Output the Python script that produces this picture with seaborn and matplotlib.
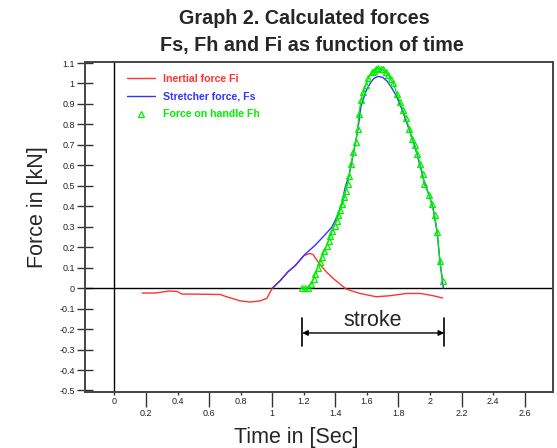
import numpy as np
import pandas as pd
import matplotlib
matplotlib.use("Agg")
import matplotlib.pyplot as plt
from matplotlib.ticker import FixedLocator, FixedFormatter
from matplotlib.lines import Line2D
import seaborn as sns

# ---- data ----
fi_time = [0.175, 0.26, 0.344, 0.397, 0.428, 0.502, 0.67, 0.71, 0.797, 0.86, 0.924, 0.966,
           0.998, 1.05, 1.10, 1.146, 1.2, 1.24, 1.26, 1.30, 1.346, 1.39, 1.47, 1.557, 1.66,
           1.747, 1.85, 1.94, 2.02, 2.08]
fi_force = [-0.024, -0.024, -0.014, -0.016, -0.029, -0.029, -0.031, -0.042, -0.062, -0.068,
            -0.062, -0.05, -0.004, 0.036, 0.08, 0.11, 0.159, 0.17, 0.163, 0.118, 0.077, 0.045,
            -0.005, -0.026, -0.042, -0.037, -0.026, -0.026, -0.037, -0.048]

fs_time = [1.0, 1.05, 1.10, 1.146, 1.21, 1.27, 1.33, 1.378, 1.41, 1.44, 1.463, 1.487, 1.515,
           1.542, 1.563, 1.593, 1.62, 1.645, 1.67, 1.70, 1.73, 1.76, 1.79, 1.83, 1.87, 1.905,
           1.937, 1.96, 1.996, 2.02, 2.046, 2.063, 2.075, 2.085]
fs_force = [0.0, 0.036, 0.08, 0.11, 0.167, 0.208, 0.257, 0.298, 0.347, 0.41, 0.494, 0.55,
            0.66, 0.77, 0.89, 0.96, 1.0, 1.025, 1.035, 1.03, 1.01, 0.975, 0.935, 0.86, 0.77,
            0.69, 0.60, 0.53, 0.45, 0.39, 0.27, 0.13, 0.06, 0.0]

fh_time = [1.188, 1.209, 1.23, 1.247, 1.262, 1.272, 1.289, 1.304, 1.314, 1.331, 1.346, 1.357,
           1.367, 1.382, 1.395, 1.41, 1.42, 1.43, 1.445, 1.458, 1.466, 1.479, 1.487, 1.5,
           1.515, 1.53, 1.542, 1.55, 1.563, 1.578, 1.593, 1.61, 1.631, 1.645, 1.66, 1.673,
           1.688, 1.70, 1.72, 1.736, 1.752, 1.768, 1.79, 1.81, 1.83, 1.848, 1.87, 1.884,
           1.905, 1.92, 1.937, 1.954, 1.962, 1.996, 2.01, 2.03, 2.046, 2.063, 2.08]
fh_force = [0.0, 0.0, 0.0, 0.02, 0.045, 0.069, 0.10, 0.126, 0.154, 0.183, 0.208, 0.232,
            0.257, 0.281, 0.306, 0.33, 0.355, 0.38, 0.41, 0.445, 0.477, 0.51, 0.55, 0.608,
            0.665, 0.714, 0.78, 0.853, 0.919, 0.96, 0.992, 1.025, 1.057, 1.06, 1.07, 1.074,
            1.072, 1.069, 1.055, 1.041, 1.02, 1.0, 0.951, 0.91, 0.87, 0.829, 0.78, 0.731,
            0.698, 0.657, 0.608, 0.559, 0.51, 0.453, 0.412, 0.355, 0.273, 0.134, 0.036]

series_labels = ["Inertial force Fi", "Stretcher force, Fs", "Force on handle Fh"]

x_upper_ticks = [0, 0.4, 0.8, 1.2, 1.6, 2.0, 2.4]
x_upper_labels = ["0", "0.4", "0.8", "1.2", "1.6", "2", "2.4"]
x_lower_ticks = [0.2, 0.6, 1.0, 1.4, 1.8, 2.2, 2.6]
x_lower_labels = ["0.2", "0.6", "1", "1.4", "1.8", "2.2", "2.6"]
y_ticks = [1.1, 1.0, 0.9, 0.8, 0.7, 0.6, 0.5, 0.4, 0.3, 0.2, 0.1, 0.0,
           -0.1, -0.2, -0.3, -0.4, -0.5]
y_labels = ["1.1", "1", "0.9", "0.8", "0.7", "0.6", "0.5", "0.4", "0.3", "0.2", "0.1", "0",
            "-0.1", "-0.2", "-0.3", "-0.4", "-0.5"]

title_lines = ["Graph 2. Calculated forces", "Fs, Fh and Fi as function of time"]
stroke_start, stroke_end = 1.19, 2.09

# ---- plotting ----
sns.set_style("white")
plt.rcParams["font.family"] = ["Liberation Sans", "DejaVu Sans"]

RED = "#ff3333"
BLUE = "#3333ff"
GREEN = "#00ee00"

fig = plt.figure(figsize=(5.57, 4.48), dpi=100)
ax = fig.add_axes([84.5 / 557, 1 - 391.5 / 448, (553 - 84.5) / 557, (391.5 - 62) / 448])

ax.axhline(0, color="black", lw=1.0, zorder=1)
ax.axvline(0, color="black", lw=1.0, zorder=1)

df_fi = pd.DataFrame({"t": fi_time, "f": fi_force})
df_fs = pd.DataFrame({"t": fs_time, "f": fs_force})
df_fh = pd.DataFrame({"t": fh_time, "f": fh_force})

sns.lineplot(data=df_fi, x="t", y="f", color=RED, lw=1.0, sort=False, ax=ax, zorder=3)
sns.lineplot(data=df_fs, x="t", y="f", color=BLUE, lw=1.0, sort=False, ax=ax, zorder=4)
sns.lineplot(data=df_fh, x="t", y="f", color=GREEN, lw=0.9, sort=False, ax=ax, zorder=5,
             marker="^", markersize=4.2, markerfacecolor="none", markeredgecolor=GREEN,
             markeredgewidth=0.9)

ax.set_xlim(-0.19, 2.78)
ax.set_ylim(-0.505, 1.105)

for s in ax.spines.values():
    s.set_color("#444444")
    s.set_linewidth(1.4)

# y ticks
ax.yaxis.set_major_locator(FixedLocator(y_ticks))
ax.yaxis.set_major_formatter(FixedFormatter(y_labels))
ax.tick_params(axis="y", which="major", direction="inout", length=11, width=1.0,
               color="#333333", pad=1.5, labelsize=6.5, left=True, labelcolor="#222222")

# x ticks: long major ticks with lower-row labels, short minor ticks with upper-row labels
ax.xaxis.set_major_locator(FixedLocator(x_lower_ticks))
ax.xaxis.set_major_formatter(FixedFormatter(x_lower_labels))
ax.xaxis.set_minor_locator(FixedLocator(x_upper_ticks))
ax.xaxis.set_minor_formatter(FixedFormatter(x_upper_labels))
ax.tick_params(axis="x", which="major", direction="out", length=11, width=1.0,
               color="#333333", pad=1.5, labelsize=6.5, bottom=True, labelcolor="#222222")
ax.tick_params(axis="x", which="minor", direction="out", length=2.5, width=1.0,
               color="#333333", pad=1.5, labelsize=6.5, bottom=True, labelbottom=True,
               labelcolor="#222222")

ax.set_xlabel("")
ax.set_ylabel("")
fig.text(296 / 557, 1 - 437 / 448, "Time in [Sec]", ha="center", va="center", fontsize=15.5)
fig.text(38 / 557, 1 - 207 / 448, "Force in [kN]", ha="center", va="center", fontsize=15.5,
         rotation=90)

fig.text(304 / 557, 1 - 18 / 448, title_lines[0], ha="center", va="center",
         fontsize=14.2, fontweight="bold")
fig.text(312 / 557, 1 - 45 / 448, title_lines[1], ha="center", va="center",
         fontsize=14.2, fontweight="bold")

# legend
handles = [Line2D([], [], color=RED, lw=1.0),
           Line2D([], [], color=BLUE, lw=1.0),
           Line2D([], [], color=GREEN, lw=0, marker="^", markersize=4.2,
                  markerfacecolor="none", markeredgecolor=GREEN, markeredgewidth=0.9)]
leg = ax.legend(handles, series_labels, loc="upper left", bbox_to_anchor=(0.09, 0.963),
                frameon=False, borderpad=0, borderaxespad=0, handlelength=2.7,
                handletextpad=0.75, labelspacing=0.72,
                prop={"size": 7.6, "weight": "bold"})
for txt, c in zip(leg.get_texts(), [RED, BLUE, GREEN]):
    txt.set_color(c)

# stroke annotation
yb0, yb1, ya = -0.145, -0.282, -0.219
ax.plot([stroke_start, stroke_start], [yb0, yb1], color="black", lw=1.2)
ax.plot([stroke_end, stroke_end], [yb0, yb1], color="black", lw=1.2)
ax.annotate("", xy=(stroke_start, ya), xytext=(stroke_end, ya),
            arrowprops=dict(arrowstyle="<|-|>", color="black", lw=1.0,
                            shrinkA=0, shrinkB=0, mutation_scale=8))
ax.text((stroke_start + stroke_end) / 2, -0.16, "stroke", ha="center", va="center",
        fontsize=15.5)

fig.savefig("out.png", dpi=100)
